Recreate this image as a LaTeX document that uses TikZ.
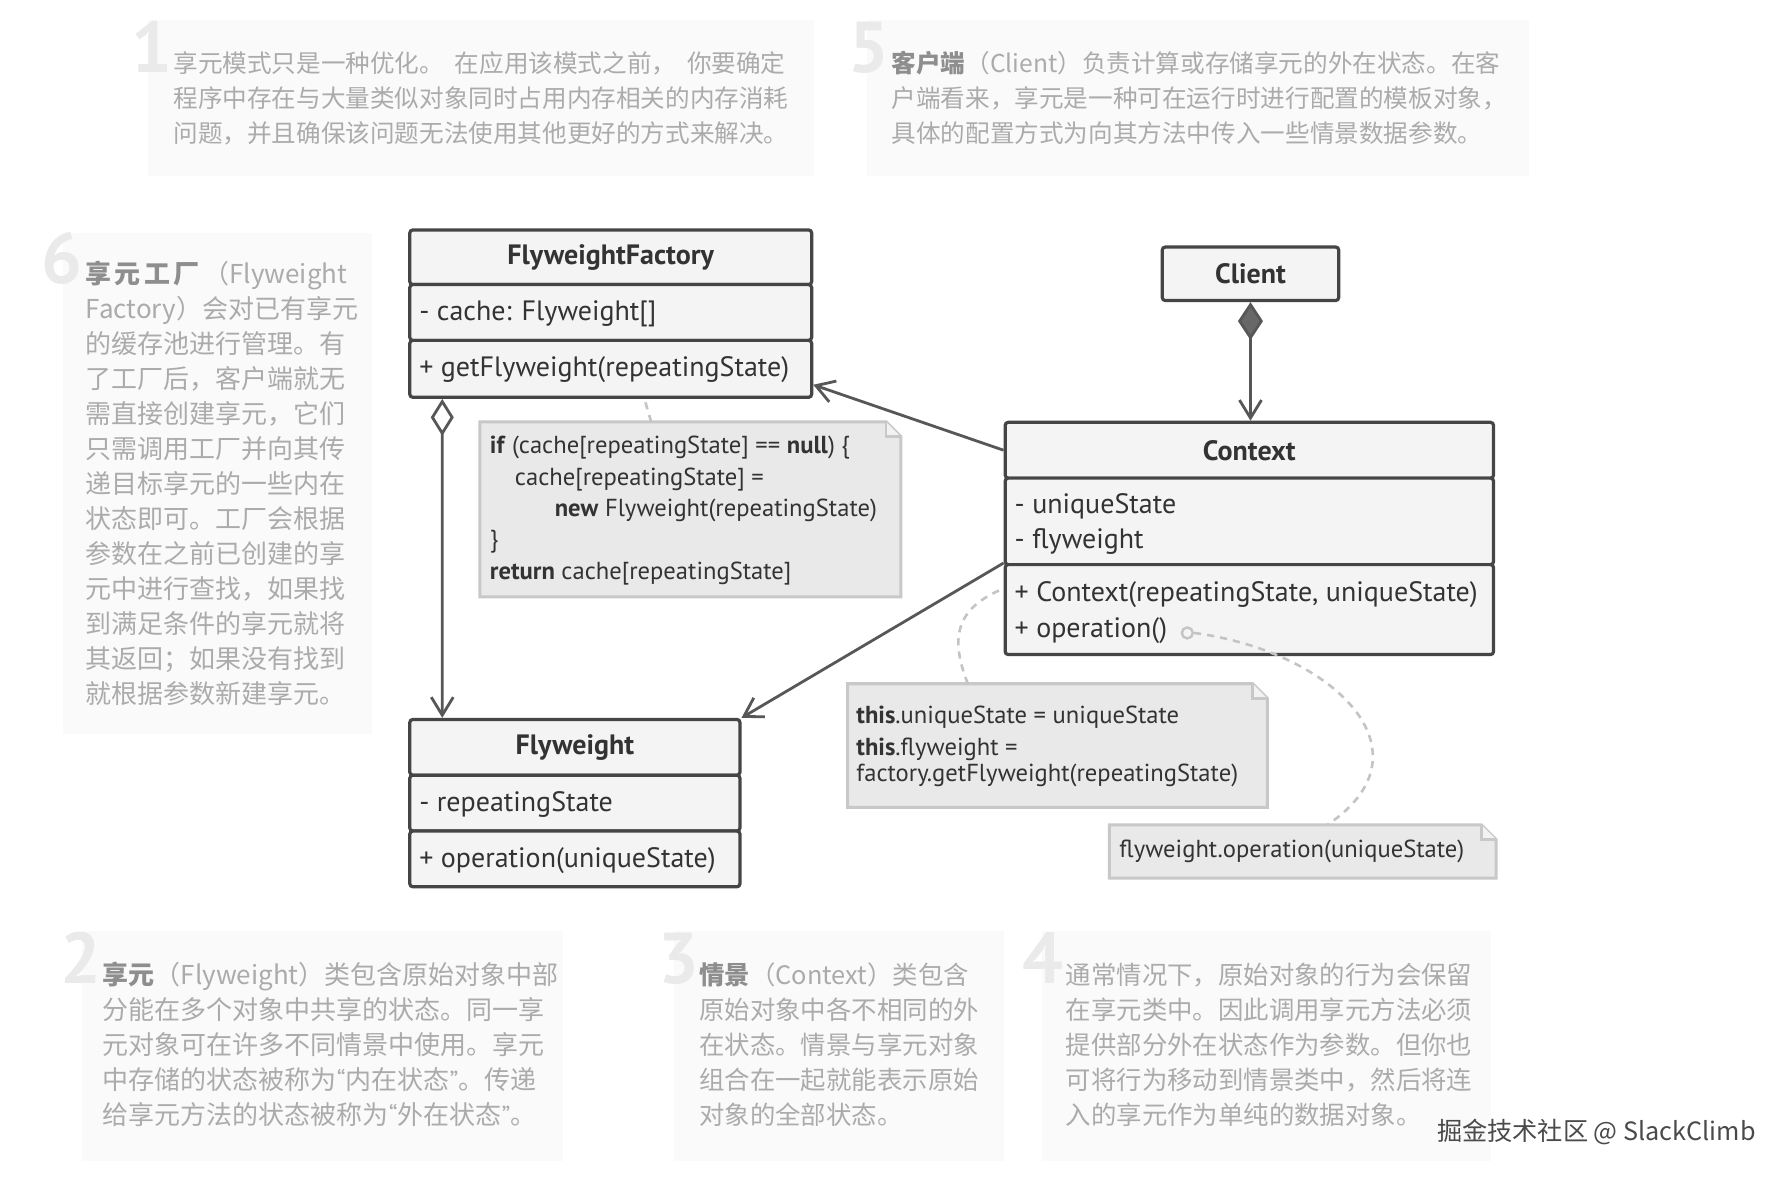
\documentclass[tikz,border=0pt]{standalone}
\usepackage{fontspec}
\setmainfont{PT Sans}
\newfontfamily\cjk{Noto Sans CJK SC}
\usetikzlibrary{arrows.meta,fit}
\definecolor{descbg}{HTML}{FAFAFA}
\definecolor{desctext}{HTML}{ABABAB}
\definecolor{descdark}{HTML}{8E8E8E}
\definecolor{digit}{HTML}{EAEAEA}
\definecolor{umlfill}{HTML}{F4F4F4}
\definecolor{umlline}{HTML}{454545}
\definecolor{umltext}{HTML}{333333}
\definecolor{notefill}{HTML}{E9E9E9}
\definecolor{noteline}{HTML}{C8C8C8}
\definecolor{connline}{HTML}{575757}
\definecolor{dashline}{HTML}{C4C4C4}
\definecolor{wmark}{HTML}{4A4A4A}
\newcommand\descbold[1]{{\color{descdark}\bfseries #1}}
\newcommand\latq[1]{{\rmfamily #1}}
\newcommand\umlsize{\fontsize{14}{16}\selectfont}
\newcommand\notesize{\fontsize{12.3}{14}\selectfont}
\begin{document}
\begin{tikzpicture}[x=0.5714pt,y=-0.5714pt,
  descbox/.style={fill=descbg, draw=none},
  desc/.style={inner sep=0pt, anchor=base west, text=desctext, font=\cjk\fontsize{13}{15}\selectfont},
  descs/.style={desc, font=\cjk\fontsize{12.3}{15}\selectfont},
  descm/.style={desc, font=\cjk\fontsize{12.7}{15}\selectfont},
  digitnum/.style={inner sep=0pt, anchor=base west, text=digit, font=\bfseries\fontsize{36}{40}\selectfont},
  comp/.style={draw=umlline, fill=umlfill, line width=1.6pt, rounded corners=1.5pt, inner sep=0pt},
  title/.style={inner sep=0pt, text=umltext, font=\umlsize\bfseries},
  member/.style={inner sep=0pt, anchor=west, text=umltext, font=\umlsize},
  notebox/.style={draw=noteline, fill=notefill, line width=1.5pt},
  notetxt/.style={inner sep=0pt, anchor=west, text=umltext, font=\notesize},
  conn/.style={draw=connline, line width=1.4pt},
  dashconn/.style={draw=dashline, line width=1.3pt, dash pattern=on 3.6pt off 3pt}
]
\useasboundingbox (0,0) rectangle (1560,1029);
\begin{scope}[scale=0.996]
% ---------- description boxes ----------
\node[descbox, fit={(130,18) (715,155)}, inner sep=0pt] (b1) {};
\node[descbox, fit={(762,18) (1343,155)}, inner sep=0pt] (b5) {};
\node[descbox, fit={(55,205) (327,645)}, inner sep=0pt] (b6) {};
\node[descbox, fit={(72,818) (495,1020)}, inner sep=0pt] (b2) {};
\node[descbox, fit={(592,818) (882,1020)}, inner sep=0pt] (b3) {};
\node[descbox, fit={(915,818) (1310,1020)}, inner sep=0pt] (b4) {};

\node[digitnum] (n1) at (115,64) {1};
\node[digitnum] (n5) at (745,64) {5};
\node[digitnum] (n6) at (36,249) {6};
\node[digitnum] (n2) at (53,864) {2};
\node[digitnum] (n3) at (578,864) {3};
\node[digitnum] (n4) at (898,864) {4};

\foreach \l [count=\i from 0] in {
  {\makebox[306pt][s]{享元模式只是一种优化。 在应用该模式之前， 你要确定}},
  {程序中存在与大量类似对象同时占用内存相关的内存消耗},
  {问题，并且确保该问题无法使用其他更好的方式来解决。}}
  \node[descs] (t1-\i) at (152,{63.6+31*\i}) {\l};

\foreach \l [count=\i from 0] in {
  {\descbold{客户端}（Client）负责计算或存储享元的外在状态。在客},
  {户端看来，享元是一种可在运行时进行配置的模板对象，},
  {具体的配置方式为向其方法中传入一些情景数据参数。}}
  \node[descs] (t5-\i) at (783,{63.6+31*\i}) {\l};

\foreach \l [count=\i from 0] in {
  {\descbold{享\kern1.6pt 元\kern1.6pt 工\kern1.6pt 厂}\kern2pt（Flyweight},
  {Factory）会对已有享元},
  {的缓存池进行管理。有},
  {了工厂后，客户端就无},
  {需直接创建享元，它们},
  {只需调用工厂并向其传},
  {递目标享元的一些内在},
  {状态即可。工厂会根据},
  {参数在之前已创建的享},
  {元中进行查找，如果找},
  {到满足条件的享元就将},
  {其返回；如果没有找到},
  {就根据参数新建享元。}}
  \node[desc] (t6-\i) at (75,{248.6+30.8*\i}) {\l};

\foreach \l [count=\i from 0] in {
  {\descbold{享元}（Flyweight）类包含原始对象中部},
  {分能在多个对象中共享的状态。同一享},
  {元对象可在许多不同情景中使用。享元},
  {中存储的状态被称为\latq{“}内在状态\latq{”}。传递},
  {给享元方法的状态被称为\latq{“}外在状态\latq{”}。}}
  \node[desc] (t2-\i) at (90,{864.6+30.8*\i}) {\l};

\foreach \l [count=\i from 0] in {
  {\descbold{情景}（Context）类包含},
  {原始对象中各不相同的外},
  {在状态。情景与享元对象},
  {组合在一起就能表示原始},
  {对象的全部状态。}}
  \node[descm] (t3-\i) at (614,{864.6+30.8*\i}) {\l};

\foreach \l [count=\i from 0] in {
  {通常情况下，原始对象的行为会保留},
  {在享元类中。因此调用享元方法必须},
  {提供部分外在状态作为参数。但你也},
  {可将行为移动到情景类中，然后将连},
  {入的享元作为单纯的数据对象。}}
  \node[descm] (t4-\i) at (936,{864.6+30.8*\i}) {\l};

% ---------- UML classes ----------
\node[comp, fit={(360,202) (713,250)}] (ffh) {};
\node[comp, fit={(360,250) (713,299)}] (ffa) {};
\node[comp, fit={(360,299) (713,349)}] (ffm) {};
\node[title] (ffh-t) at (ffh.center) {FlyweightFactory};
\node[member] (ffa-1) at (368,276) {- cache: Flyweight[]};
\node[member] (ffm-1) at (368,325) {+ getFlyweight(repeatingState)};

\node[comp, fit={(1021,217) (1176,264)}] (cl) {};
\node[title] (cl-t) at (cl.center) {Client};

\node[comp, fit={(883,371) (1312,420)}] (cxh) {};
\node[comp, fit={(883,420) (1312,496)}] (cxa) {};
\node[comp, fit={(883,496) (1312,575)}] (cxm) {};
\node[title] (cxh-t) at (cxh.center) {Context};
\node[member] (cxa-1) at (891,445) {- uniqueState};
\node[member] (cxa-2) at (891,476) {- flyweight};
\node[member] (cxm-1) at (891,522) {+ Context(repeatingState, uniqueState)};
\node[member] (cxm-2) at (891,554) {+ operation()};

\node[comp, fit={(360,632) (650,681)}] (fwh) {};
\node[comp, fit={(360,681) (650,730)}] (fwa) {};
\node[comp, fit={(360,730) (650,779)}] (fwm) {};
\node[title] (fwh-t) at (fwh.center) {Flyweight};
\node[member] (fwa-1) at (368,707) {- repeatingState};
\node[member] (fwm-1) at (368,756) {+ operation(uniqueState)};

% ---------- notes ----------
\def\ear{7.4pt}
\foreach \n/\a/\b in {nt1/{(422,371)}/{(791,524)}, nt2/{(745,601)}/{(1113,709)}, nt3/{(975,725)}/{(1314,771)}}{
  \node[inner sep=0pt, fit={\a \b}] (\n) {};
  \draw[notebox] (\n.north west) -- ([xshift=-\ear]\n.north east) -- ([yshift=-\ear]\n.north east)
     -- (\n.south east) -- (\n.south west) -- cycle;
  \draw[draw=noteline, line width=1.2pt, fill=notefill!60!white] ([xshift=-\ear]\n.north east) -- ([xshift=-\ear,yshift=-\ear]\n.north east) -- ([yshift=-\ear]\n.north east);
}
\node[notetxt] (c1) at (430,393) {\textbf{if} (cache[repeatingState] == \textbf{null}) \{};
\node[notetxt] (c2) at (452,421) {cache[repeatingState] =};
\node[notetxt] (c3) at (487,448) {\textbf{new} Flyweight(repeatingState)};
\node[notetxt] (c4) at (430,476) {\}};
\node[notetxt] (c5) at (430,504) {\textbf{return} cache[repeatingState]};

\node[notetxt] (d1) at (752,630) {\textbf{this}.uniqueState = uniqueState};
\node[notetxt] (d2) at (752,658) {\textbf{this}.flyweight =};
\node[notetxt] (d3) at (752,681) {factory.getFlyweight(repeatingState)};

\node[notetxt] (e1) at (983,748) {flyweight.operation(uniqueState)};

% ---------- connectors ----------
\draw[conn, {Diamond[length=19pt,width=12.5pt,fill=connline!90!white]}-{Straight Barb[length=9pt,width=11pt,line width=1.4pt]}]
  (cl.south) -- (cl.south |- cxh.north);
\draw[conn, {Diamond[length=18.5pt,width=11.5pt,open,fill=white]}-{Straight Barb[length=9pt,width=11pt,line width=1.4pt]}]
  ([xshift=17.1pt]ffm.south west) -- ([xshift=17.1pt]fwh.north west);
\draw[conn, -{Straight Barb[length=9pt,width=11pt,line width=1.4pt]}]
  (cxh.west) -- ([yshift=-8pt]ffm.east);
\draw[conn, -{Straight Barb[length=9pt,width=11pt,line width=1.4pt]}]
  (cxm.north west) -- (fwh.north east);

\draw[dashconn] ([xshift=-19.7pt]nt1.north) -- ([xshift=16.9pt]ffm.south);
\draw[dashconn] ([xshift=-45pt]nt2.north) .. controls +(-18,-45) and +(-38,16) .. ([yshift=10.6pt]cxm.west);
\node[circle, draw=dashline, line width=1.2pt, fill=umlfill, inner sep=0pt, minimum size=5.5pt] (op) at (1043,556) {};
\draw[dashconn] (op.east) .. controls (1170,572) and (1262,660) .. ([xshift=12.3pt]nt3.north);

% ---------- watermark ----------
\node[inner sep=0pt, anchor=base west, text=wmark, font=\cjk\fontsize{12.6}{14}\selectfont] (wm) at (1262,1002) {掘金技术社区 @ SlackClimb};
\end{scope}
\end{tikzpicture}
\end{document}
